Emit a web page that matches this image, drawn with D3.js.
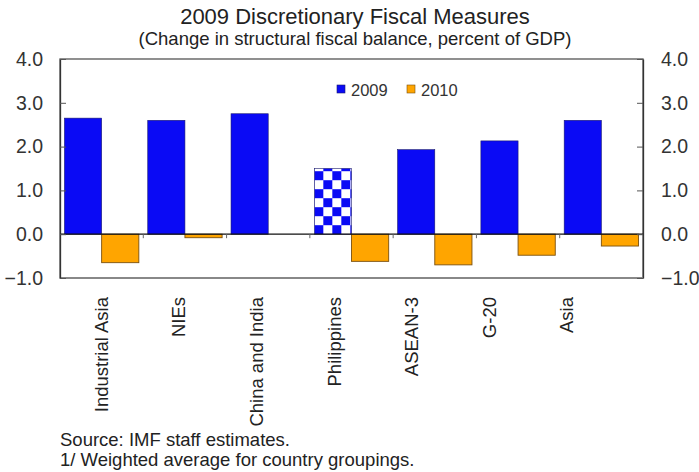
<!DOCTYPE html>
<html>
<head>
<meta charset="utf-8">
<script src="https://cdn.jsdelivr.net/npm/d3@7"></script>
<style>
  html, body { margin: 0; padding: 0; background: #fff; }
  svg { display: block; font-family: Arial, "Liberation Sans", sans-serif; }
</style>
</head>
<body>
<svg id="chart" width="699" height="472"></svg>
<script>
// Country groupings and their discretionary fiscal measures (percent of GDP)
const categories = ["Industrial Asia", "NIEs", "China and India", "Philippines", "ASEAN-3", "G-20", "Asia"];
const values2009 = [2.65, 2.6, 2.75, 1.5, 1.93, 2.13, 2.6];
const values2010 = [-0.65, -0.08, 0, -0.62, -0.7, -0.48, -0.27];
const seriesNames = ["2009", "2010"];
const yTicks = [-1, 0, 1, 2, 3, 4];
// Bars of the 2009 series drawn with a checkered fill
const checkered = ["Philippines"];

const svg = d3.select("#chart");
const plot = { left: 60, right: 643, top: 59, bottom: 278 };

const x = d3.scaleBand().domain(categories).range([plot.left, plot.right]).paddingInner(0).paddingOuter(0);
const inner = d3.scaleBand().domain(seriesNames).range([0, x.bandwidth()]).paddingOuter(0.12).paddingInner(0);
const y = d3.scaleLinear().domain([-1, 4]).range([plot.bottom, plot.top]);
// Category labels sit on a slightly narrower band than the bars
const xLabel = d3.scaleBand().domain(categories).range([61, 604]);

const blue = "#0a0af5", orange = "#ffa500";

// Checkered pattern
const defs = svg.append("defs");
const pat = defs.append("pattern").attr("id", "checker").attr("patternUnits", "userSpaceOnUse")
  .attr("width", 18).attr("height", 18).attr("x", x("Philippines") + inner("2009")).attr("y", y(0));
pat.append("rect").attr("width", 18).attr("height", 18).attr("fill", "#fff");
pat.append("rect").attr("width", 9).attr("height", 9).attr("x", 9).attr("y", 0).attr("fill", blue);
pat.append("rect").attr("width", 9).attr("height", 9).attr("x", 0).attr("y", 9).attr("fill", blue);

// Titles
svg.append("text").attr("x", 355).attr("y", 24).attr("text-anchor", "middle")
  .attr("font-size", 22).attr("fill", "#222").text("2009 Discretionary Fiscal Measures");
svg.append("text").attr("x", 355).attr("y", 45).attr("text-anchor", "middle")
  .attr("font-size", 18.5).attr("fill", "#222").text("(Change in structural fiscal balance, percent of GDP)");

// Frame
svg.append("rect").attr("x", plot.left).attr("y", plot.top)
  .attr("width", plot.right - plot.left).attr("height", plot.bottom - plot.top)
  .attr("fill", "none").attr("stroke", "#555").attr("stroke-width", 1.3);
svg.append("line").attr("x1", plot.left).attr("x2", plot.right)
  .attr("y1", plot.bottom).attr("y2", plot.bottom).attr("stroke", "#888").attr("stroke-width", 2);

// Bars
const g = svg.append("g");
categories.forEach((c, i) => {
  const x0 = x(c);
  const v1 = values2009[i], v2 = values2010[i];
  g.append("rect")
    .attr("x", x0 + inner("2009")).attr("width", inner.bandwidth())
    .attr("y", y(Math.max(0, v1))).attr("height", Math.abs(y(v1) - y(0)))
    .attr("fill", checkered.includes(c) ? "url(#checker)" : blue)
    .attr("stroke", "#1a1a6e").attr("stroke-width", 0.6);
  if (v2 !== 0) {
    g.append("rect")
      .attr("x", x0 + inner("2010")).attr("width", inner.bandwidth())
      .attr("y", y(Math.max(0, v2))).attr("height", Math.abs(y(v2) - y(0)))
      .attr("fill", orange).attr("stroke", "#7a5010").attr("stroke-width", 0.9);
  }
});

// Zero line
svg.append("line").attr("x1", plot.left).attr("x2", plot.right)
  .attr("y1", y(0)).attr("y2", y(0)).attr("stroke", "#111").attr("stroke-width", 1.3);

// Category boundary ticks on the zero line
const bounds = categories.slice(1).map(c => x(c));
svg.selectAll(".xtick").data(bounds).enter().append("line")
  .attr("x1", d => d).attr("x2", d => d).attr("y1", y(0)).attr("y2", y(0) + 4)
  .attr("stroke", "#666").attr("stroke-width", 1);

// Left and right axes with inward ticks
const fmt = d3.format(".1f");
const leftAxis = svg.append("g").attr("transform", `translate(${plot.left},0)`)
  .call(d3.axisLeft(y).tickValues(yTicks).tickFormat(fmt).tickSizeInner(-6).tickSizeOuter(0).tickPadding(17));
const rightAxis = svg.append("g").attr("transform", `translate(${plot.right},0)`)
  .call(d3.axisRight(y).tickValues(yTicks).tickFormat(fmt).tickSizeInner(-6).tickSizeOuter(0).tickPadding(18));
[leftAxis, rightAxis].forEach(a => {
  a.select(".domain").attr("stroke", "#333").attr("stroke-width", 1.3);
  a.selectAll(".tick line").attr("stroke", "#555");
  a.selectAll(".tick text").attr("font-size", 19.5).attr("fill", "#333").attr("font-family", "Arial, 'Liberation Sans', sans-serif");
});

// Category labels, rotated
svg.selectAll(".xlabel").data(categories).enter().append("text")
  .attr("transform", d => `translate(${xLabel(d) + xLabel.bandwidth() / 2 + 8},297) rotate(-90)`)
  .attr("text-anchor", "end").attr("font-size", 18.5).attr("fill", "#222").text(d => d);

// Legend
const legend = svg.append("g").attr("transform", "translate(337,85)");
const legendColors = [blue, orange];
seriesNames.forEach((s, i) => {
  const lx = i * 70;
  legend.append("rect").attr("x", lx).attr("y", 0).attr("width", 8).attr("height", 8)
    .attr("fill", legendColors[i]).attr("stroke", i ? "#7a5010" : "#1a1a6e").attr("stroke-width", 0.6);
  legend.append("text").attr("x", lx + 14).attr("y", 10.5).attr("font-size", 16.5).attr("fill", "#333").text(s);
});

// Notes
svg.append("text").attr("x", 60).attr("y", 446).attr("font-size", 18.5).attr("fill", "#222").text("Source: IMF staff estimates.");
svg.append("text").attr("x", 60).attr("y", 466).attr("font-size", 18.5).attr("fill", "#222").text("1/ Weighted average for country groupings.");
</script>
</body>
</html>
